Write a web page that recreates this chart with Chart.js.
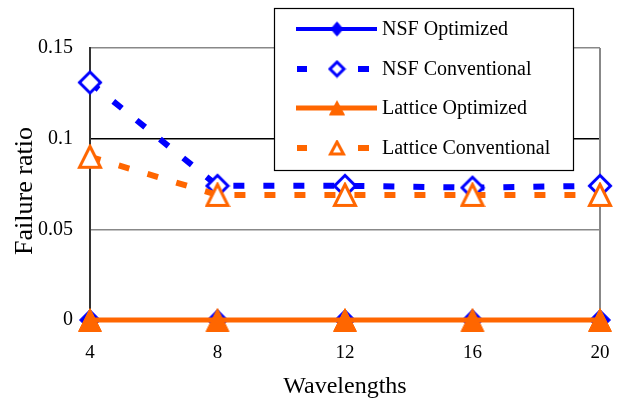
<!DOCTYPE html>
<html>
<head>
<meta charset="utf-8">
<script src="https://cdn.jsdelivr.net/npm/chart.js@4/dist/chart.umd.min.js"></script>
<style>
  html, body { margin: 0; padding: 0; background: #fff; }
  #wrap { width: 619px; height: 401px; }
</style>
</head>
<body>
<div id="wrap"><canvas id="c" width="619" height="401"></canvas></div>
<script>
const wavelengths = [4, 8, 12, 16, 20];
const nsfOptimized = [0, 0, 0, 0, 0];
const nsfConventional = [0.131, 0.074, 0.074, 0.073, 0.074];
const latticeOptimized = [0, 0, 0, 0, 0];
const latticeConventional = [0.090, 0.069, 0.069, 0.069, 0.069];
const yTicks = [0, 0.05, 0.1, 0.15];
const yTitle = 'Failure ratio';

const BLUE = '#0000ff';
const ORANGE = '#ff6600';
const FONT = '"Liberation Serif", "Times New Roman", serif';

const pts = arr => arr.map((v, i) => ({ x: wavelengths[i], y: v }));

// Excel-like markers: shape centred on its bounding box
function marker(shape, w, h, fill, stroke, lw) {
  const c = document.createElement('canvas');
  c.width = w + 2; c.height = h + 2;
  const g = c.getContext('2d');
  const p = lw / 2 + 1;
  g.beginPath();
  if (shape === 'diamond') {
    g.moveTo(c.width / 2, p); g.lineTo(c.width - p, c.height / 2);
    g.lineTo(c.width / 2, c.height - p); g.lineTo(p, c.height / 2);
  } else {
    g.moveTo(c.width / 2, p); g.lineTo(c.width - p, c.height - p); g.lineTo(p, c.height - p);
  }
  g.closePath();
  g.fillStyle = fill; g.fill();
  g.strokeStyle = stroke; g.lineWidth = lw; g.lineJoin = 'miter'; g.stroke();
  return c;
}

const mk = {
  nsfOpt: marker('diamond', 22, 22, BLUE, BLUE, 1),
  nsfConv: marker('diamond', 24, 24, '#fff', BLUE, 3),
  latOpt: marker('triangle', 24, 24, ORANGE, ORANGE, 1),
  latConv: marker('triangle', 24, 24, '#fff', ORANGE, 3)
};
const legendMk = [
  marker('diamond', 13, 15, BLUE, BLUE, 1),
  marker('diamond', 17, 17, '#fff', BLUE, 3),
  marker('triangle', 16, 15, ORANGE, ORANGE, 1),
  marker('triangle', 16, 15, '#fff', ORANGE, 3)
];

// legend drawn by hand so it can sit over the plot with a box
const boxLegend = {
  id: 'boxLegend',
  afterDraw(chart) {
    const ctx = chart.ctx;
    const x0 = 274, y0 = 8, w = 299, h = 162;
    ctx.save();
    ctx.fillStyle = '#fff';
    ctx.fillRect(x0, y0, w, h);
    ctx.strokeStyle = '#000';
    ctx.lineWidth = 1.2;
    ctx.strokeRect(x0 + 0.5, y0 + 0.5, w, h);
    const rows = [29, 69, 108, 148];
    chart.data.datasets.forEach((ds, i) => {
      const y = rows[i];
      ctx.strokeStyle = ds.borderColor;
      ctx.lineWidth = ds.borderWidth;
      ctx.beginPath();
      if (ds.borderDash) {
        ctx.moveTo(297, y); ctx.lineTo(307, y);
        ctx.moveTo(358, y); ctx.lineTo(369, y);
      } else {
        ctx.moveTo(296, y); ctx.lineTo(377, y);
      }
      ctx.stroke();
      const m = legendMk[i];
      ctx.drawImage(m, 337 - m.width / 2, y - m.height / 2);
      ctx.fillStyle = '#000';
      ctx.font = '20px ' + FONT;
      ctx.textBaseline = 'middle';
      ctx.textAlign = 'left';
      ctx.fillText(ds.label, 382, y + 1);
    });
    ctx.restore();
  }
};

// y title sits a little below the plot centre in the original
const yTitlePlugin = {
  id: 'yTitle',
  afterDraw(chart) {
    const ctx = chart.ctx;
    ctx.save();
    ctx.translate(25, 191);
    ctx.rotate(-Math.PI / 2);
    ctx.fillStyle = '#000';
    ctx.font = '26px ' + FONT;
    ctx.textAlign = 'center';
    ctx.textBaseline = 'middle';
    ctx.fillText(yTitle, 0, 0);
    ctx.restore();
  }
};

new Chart(document.getElementById('c'), {
  type: 'scatter',
  data: {
    datasets: [
      {
        label: 'NSF Optimized',
        data: pts(nsfOptimized),
        showLine: true,
        borderColor: BLUE, borderWidth: 4,
        pointStyle: mk.nsfOpt, pointRadius: 10,
        order: 4, clip: false
      },
      {
        label: 'NSF Conventional',
        data: pts(nsfConventional),
        showLine: true,
        borderColor: BLUE, borderWidth: 6, borderDash: [11, 19],
        pointStyle: mk.nsfConv, pointRadius: 12,
        order: 3, clip: false
      },
      {
        label: 'Lattice Optimized',
        data: pts(latticeOptimized),
        showLine: true,
        borderColor: ORANGE, borderWidth: 5,
        pointStyle: mk.latOpt, pointRadius: 12,
        order: 2, clip: false
      },
      {
        label: 'Lattice Conventional',
        data: pts(latticeConventional),
        showLine: true,
        borderColor: ORANGE, borderWidth: 6, borderDash: [11, 19],
        pointStyle: mk.latConv, pointRadius: 12,
        order: 1, clip: false
      }
    ]
  },
  options: {
    responsive: false,
    animation: false,
    layout: { padding: { top: 48, right: 19, left: 0, bottom: 0 } },
    plugins: { legend: { display: false }, tooltip: { enabled: false } },
    scales: {
      x: {
        type: 'linear', min: 4, max: 20,
        afterBuildTicks: s => { s.ticks = wavelengths.map(v => ({ value: v })); },
        afterFit: s => { s.height = 81; s.paddingLeft = 0; s.paddingRight = 0; },
        grid: { display: false, drawTicks: false },
        border: { display: false },
        ticks: { color: '#000', font: { family: FONT, size: 19 }, padding: 22, maxRotation: 0 },
        title: { display: true, text: 'Wavelengths', color: '#000', font: { family: FONT, size: 24 }, padding: { top: 0, bottom: 0 } }
      },
      y: {
        min: 0, max: 0.15,
        afterBuildTicks: s => { s.ticks = yTicks.map(v => ({ value: v })); },
        afterFit: s => { s.width = 90; s.paddingTop = 0; s.paddingBottom = 0; },
        grid: {
          drawTicks: false,
          color: c => (c.tick && c.tick.value === 0.1) ? '#000' : '#888',
          lineWidth: 1.5
        },
        border: { display: true, color: '#333', width: 2 },
        ticks: { color: '#000', font: { family: FONT, size: 20 }, padding: 17, callback: v => String(v) },
        title: { display: false }
      }
    }
  },
  plugins: [{
    id: 'rightBorder',
    beforeDatasetsDraw(chart) {
      const { ctx, chartArea: a } = chart;
      ctx.save();
      ctx.strokeStyle = '#888';
      ctx.lineWidth = 2;
      ctx.beginPath();
      ctx.moveTo(a.right, a.top); ctx.lineTo(a.right, a.bottom);
      ctx.stroke();
      ctx.restore();
    }
  }, boxLegend, yTitlePlugin]
});
</script>
</body>
</html>
